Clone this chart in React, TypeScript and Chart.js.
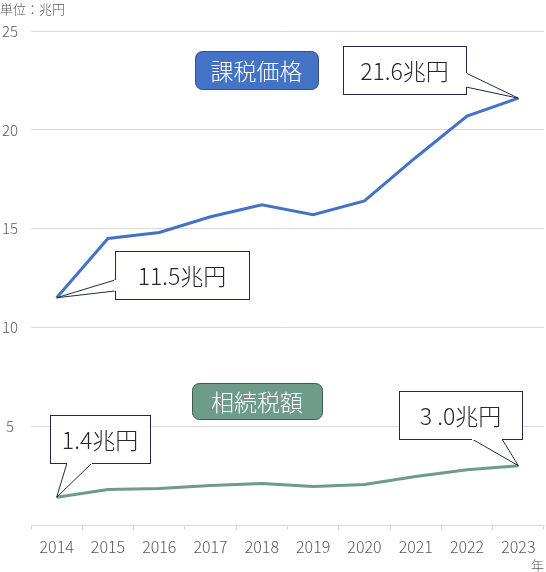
import { useEffect, useRef } from 'react';
import { Chart, registerables } from 'chart.js';

Chart.register(...registerables);

const years = ['2014', '2015', '2016', '2017', '2018', '2019', '2020', '2021', '2022', '2023'];
const taxablePrice = [11.5, 14.5, 14.8, 15.6, 16.2, 15.7, 16.4, 18.6, 20.7, 21.6];
const inheritanceTax = [1.4, 1.8, 1.85, 2.0, 2.1, 1.95, 2.05, 2.45, 2.8, 3.0];
const seriesNames = ['課税価格', '相続税額'];
const yTicks = [0, 5, 10, 15, 20, 25];
const unitLabel = '単位：兆円';
const xUnitLabel = '年';

// callouts: text, dataset/index of the pointed value
const calloutTexts = ['21.6兆円', '11.5兆円', '1.4兆円', '3 .0兆円'];
const calloutTargets = [[0, 9], [0, 0], [1, 0], [1, 9]];

const FONT = '"Noto Sans CJK JP", "Noto Sans", sans-serif';
const BLUE = '#4472C4';
const GREEN = '#6F9B89';

// box geometry in canvas pixels (x, y, w, h) and tail base points
const calloutBoxes = [
  { x: 343, y: 46, w: 123, h: 48, base: [[466, 73], [466, 87]] },
  { x: 115, y: 251, w: 134, h: 48, base: [[115, 280], [115, 291]] },
  { x: 50, y: 415, w: 100, h: 48, base: [[67, 463], [92, 463]] },
  { x: 399, y: 391, w: 123, h: 48, base: [[472, 439], [502, 439]] },
];
const nameBoxes = [
  { x: 195, y: 51, w: 123, h: 38, fill: BLUE, stroke: '#2F528F' },
  { x: 192, y: 383, w: 130, h: 36, fill: GREEN, stroke: '#3E5A4E' },
];

const decorations = {
  id: 'decorations',
  afterDatasetsDraw(chart: any) {
    const ctx = chart.ctx as CanvasRenderingContext2D;
    ctx.save();

    // series name boxes
    nameBoxes.forEach((b, i) => {
      ctx.beginPath();
      ctx.roundRect(b.x + 0.5, b.y + 0.5, b.w, b.h, 7);
      ctx.fillStyle = b.fill;
      ctx.fill();
      ctx.lineWidth = 1;
      ctx.strokeStyle = b.stroke;
      ctx.stroke();
      ctx.fillStyle = '#FFFFFF';
      ctx.font = `300 23px ${FONT}`;
      ctx.textAlign = 'center';
      ctx.textBaseline = 'middle';
      ctx.fillText(seriesNames[i], b.x + b.w / 2, b.y + b.h / 2 + 1);
    });

    // callouts
    calloutBoxes.forEach((b, i) => {
      const [ds, idx] = calloutTargets[i];
      const pt = chart.getDatasetMeta(ds).data[idx];
      ctx.beginPath();
      ctx.moveTo(b.base[0][0], b.base[0][1]);
      ctx.lineTo(pt.x, pt.y);
      ctx.lineTo(b.base[1][0], b.base[1][1]);
      ctx.fillStyle = '#FFFFFF';
      ctx.fill();
      ctx.strokeStyle = '#1F2A44';
      ctx.lineWidth = 1;
      ctx.stroke();
      ctx.fillRect(b.x, b.y, b.w, b.h);
      ctx.strokeRect(b.x + 0.5, b.y + 0.5, b.w, b.h);
      // hide the box edge where the tail joins
      ctx.beginPath();
      ctx.moveTo(b.base[0][0], b.base[0][1]);
      ctx.lineTo(b.base[1][0], b.base[1][1]);
      ctx.strokeStyle = '#FFFFFF';
      ctx.lineWidth = 2;
      ctx.stroke();
      ctx.fillStyle = '#262626';
      ctx.font = `300 23px ${FONT}`;
      ctx.textAlign = 'center';
      ctx.textBaseline = 'middle';
      ctx.fillText(calloutTexts[i], b.x + b.w / 2, b.y + b.h / 2 + 1);
    });

    // unit labels
    ctx.fillStyle = '#595959';
    ctx.font = `300 13px ${FONT}`;
    ctx.textAlign = 'left';
    ctx.textBaseline = 'middle';
    ctx.fillText(unitLabel, 0, 9);
    ctx.fillText(xUnitLabel, 531, 565);
    ctx.restore();
  },
};

export default function App() {
  const chartRef = useRef<HTMLCanvasElement>(null);
  const chartInstance = useRef<Chart | null>(null);

  useEffect(() => {
    if (!chartRef.current) return;
    const ctx = chartRef.current.getContext('2d');
    if (!ctx) return;
    if (chartInstance.current) chartInstance.current.destroy();

    chartInstance.current = new Chart(ctx, {
      type: 'line',
      data: {
        labels: years,
        datasets: [
          { label: seriesNames[0], data: taxablePrice, borderColor: BLUE, borderWidth: 3, pointRadius: 0, tension: 0 },
          { label: seriesNames[1], data: inheritanceTax, borderColor: GREEN, borderWidth: 3, pointRadius: 0, tension: 0 },
        ],
      },
      options: {
        responsive: true,
        maintainAspectRatio: false,
        animation: false,
        layout: { padding: { top: 31, right: 2, left: 0, bottom: 0 } },
        plugins: {
          legend: { display: false },
          tooltip: { enabled: false },
        },
        scales: {
          x: {
            offset: true,
            grid: { offset: true, drawOnChartArea: false, drawTicks: true, tickLength: 5, color: '#D9D9D9' },
            border: { color: '#D9D9D9' },
            ticks: { color: '#595959', font: { family: FONT, size: 16, weight: 300 }, padding: 7, maxRotation: 0 },
            afterFit: (scale: any) => { scale.height = 47; },
          },
          y: {
            min: yTicks[0],
            max: yTicks[yTicks.length - 1],
            afterBuildTicks: (scale: any) => { scale.ticks = yTicks.map((v) => ({ value: v })); },
            grid: { color: '#D9D9D9', drawTicks: false },
            border: { display: false },
            ticks: {
              color: '#595959',
              font: { family: FONT, size: 15, weight: 300 },
              padding: 13,
              crossAlign: 'center',
              callback: (v: any) => (v === 0 ? '' : String(v)),
            },
            afterFit: (scale: any) => { scale.width = 31; },
          },
        },
      },
      plugins: [decorations],
    });

    return () => {
      if (chartInstance.current) {
        chartInstance.current.destroy();
        chartInstance.current = null;
      }
    };
  }, []);

  return (
    <div style={{ position: 'fixed', left: 0, top: 0, width: 546, height: 572, background: '#fff' }}>
      <canvas ref={chartRef} />
    </div>
  );
}
